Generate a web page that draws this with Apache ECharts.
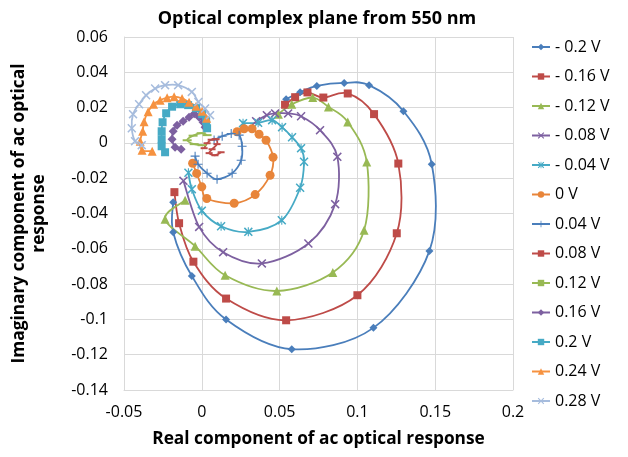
<!DOCTYPE html>
<html>
<head>
<meta charset="utf-8">
<script src="https://cdn.jsdelivr.net/npm/echarts@6/dist/echarts.min.js"></script>
<style>
  html, body { margin: 0; padding: 0; background: #fff; }
  #chart { width: 628px; height: 457px; }
</style>
</head>
<body>
<div id="chart"></div>
<script>
// Real / imaginary parts of the ac optical response at 550 nm, one loop per bias voltage.
const seriesNames = ['- 0.2 V', '- 0.16 V', '- 0.12 V', '- 0.08 V', '- 0.04 V', '0 V',
  '0.04 V', '0.08 V', '0.12 V', '0.16 V', '0.2 V', '0.24 V', '0.28 V'];

const xRange = { min: -0.05, max: 0.2, step: 0.05 };
const yRange = { min: -0.14, max: 0.06, step: 0.02 };

const vNeg020 = [[-0.0184, -0.0336], [-0.0184, -0.0506], [-0.0064, -0.0754], [0.0156, -0.1001],
  [0.0578, -0.1169], [0.1103, -0.1048], [0.1463, -0.0612], [0.1478, -0.0121], [0.1296, 0.0180],
  [0.1075, 0.0327], [0.0915, 0.0340], [0.0739, 0.0323], [0.0632, 0.0287], [0.0542, 0.0248]];

const vNeg016 = [[-0.0176, -0.0279], [-0.0146, -0.0455], [-0.0054, -0.0673], [0.0156, -0.0882],
  [0.0542, -0.1005], [0.1000, -0.0863], [0.1253, -0.0512], [0.1263, -0.0117], [0.1107, 0.0163],
  [0.0938, 0.0280], [0.0781, 0.0257], [0.0679, 0.0286], [0.0600, 0.0259], [0.0535, 0.0216]];

const vNeg012 = [[-0.0107, -0.0325], [-0.0236, -0.0432], [-0.0043, -0.0585], [0.0150, -0.0750],
  [0.0482, -0.0839], [0.0842, -0.0734], [0.1043, -0.0495], [0.1060, -0.0108], [0.0938, 0.0119],
  [0.0814, 0.0204], [0.0713, 0.0257], [0.0578, 0.0219], [0.0492, 0.0163]];

const vNeg008 = [[-0.0118, -0.0215], [-0.0017, -0.0476], [0.0137, -0.0619], [0.0386, -0.0683],
  [0.0685, -0.0570], [0.0857, -0.0347], [0.0871, -0.0079], [0.0760, 0.0072], [0.0638, 0.0151],
  [0.0555, 0.0167], [0.0471, 0.0167], [0.0418, 0.0157], [0.0349, 0.0123]];

const vNeg004 = [[-0.0086, -0.0169], [-0.0064, -0.0262], [0.0000, -0.0384], [0.0124, -0.0472],
  [0.0299, -0.0504], [0.0514, -0.0438], [0.0632, -0.0254], [0.0657, -0.0107], [0.0638, -0.0030],
  [0.0580, 0.0032], [0.0516, 0.0089], [0.0452, 0.0129], [0.0362, 0.0114], [0.0265, 0.0112]];

const vZero = [[-0.0059, -0.0115], [-0.0033, -0.0173], [0.0000, -0.0249], [0.0032, -0.0315],
  [0.0208, -0.0342], [0.0343, -0.0293], [0.0439, -0.0183], [0.0458, -0.0081], [0.0413, 0.0015],
  [0.0368, 0.0049], [0.0323, 0.0080], [0.0272, 0.0080], [0.0227, 0.0063]];

const vPos004 = [[0.0079, 0.0016], [0.0131, 0.0038], [0.0189, 0.0053], [0.0240, 0.0044],
  [0.0259, -0.0019], [0.0253, -0.0098], [0.0195, -0.0172], [0.0098, -0.0206], [0.0034, -0.0172],
  [-0.0024, -0.0121], [-0.0043, -0.0075]];

const vPos008 = [[0.0015, -0.0030], [0.0034, -0.0002], [0.0060, 0.0018], [0.0092, 0.0021],
  [0.0098, -0.0007], [0.0066, -0.0036], [0.0047, -0.0058], [0.0085, -0.0070], [0.0124, -0.0053]];

const vPos012 = [[0.0002, -0.0013], [-0.0049, -0.0007], [-0.0094, 0.0015], [-0.0056, 0.0041],
  [-0.0004, 0.0055], [0.0034, 0.0044]];

const vPos016 = [[-0.0133, -0.0036], [-0.0172, -0.0024], [-0.0191, 0.0021], [-0.0184, 0.0066],
  [-0.0159, 0.0100], [-0.0120, 0.0123], [-0.0082, 0.0146], [-0.0049, 0.0165], [-0.0017, 0.0146],
  [0.0008, 0.0117], [0.0021, 0.0089]];

const vPos020 = [[-0.0236, -0.0053], [-0.0258, -0.0019], [-0.0258, 0.0021], [-0.0258, 0.0066],
  [-0.0252, 0.0117], [-0.0229, 0.0168], [-0.0191, 0.0205], [-0.0139, 0.0219], [-0.0088, 0.0214],
  [-0.0037, 0.0197], [0.0002, 0.0163], [0.0028, 0.0123], [0.0034, 0.0083]];

const vPos024 = [[-0.0319, -0.0047], [-0.0384, -0.0041], [-0.0396, 0.0010], [-0.0380, 0.0066],
  [-0.0371, 0.0120], [-0.0345, 0.0177], [-0.0310, 0.0219], [-0.0268, 0.0242], [-0.0223, 0.0256],
  [-0.0178, 0.0262], [-0.0127, 0.0252], [-0.0082, 0.0231], [-0.0037, 0.0208], [0.0002, 0.0180],
  [0.0031, 0.0140]];

const vPos028 = [[-0.0386, -0.0013], [-0.0429, 0.0010], [-0.0450, 0.0083], [-0.0442, 0.0163],
  [-0.0403, 0.0219], [-0.0358, 0.0270], [-0.0300, 0.0308], [-0.0236, 0.0327], [-0.0152, 0.0327],
  [-0.0064, 0.0289], [-0.0022, 0.0232], [0.0021, 0.0195], [0.0053, 0.0157]];

const seriesData = [vNeg020, vNeg016, vNeg012, vNeg008, vNeg004, vZero,
  vPos004, vPos008, vPos012, vPos016, vPos020, vPos024, vPos028];

// Marker shapes
const SYM_X = 'path://M0,1.2L1.2,0L5,3.8L8.8,0L10,1.2L6.2,5L10,8.8L8.8,10L5,6.2L1.2,10L0,8.8L3.8,5Z';
const SYM_STAR = SYM_X + 'M4.4,0L5.6,0L5.6,10L4.4,10Z';
const SYM_PLUS = 'path://M4.4,0L5.6,0L5.6,4.4L10,4.4L10,5.6L5.6,5.6L5.6,10L4.4,10L4.4,5.6L0,5.6L0,4.4L4.4,4.4Z';
const SYM_DASH = 'path://M0,0L10,0L10,10L0,10Z';

const styles = [
  { color: '#4A7EBB', symbol: 'diamond', size: 8 },
  { color: '#BE4B48', symbol: 'rect', size: 8 },
  { color: '#98B954', symbol: 'triangle', size: 9 },
  { color: '#7D60A0', symbol: SYM_X, size: 9 },
  { color: '#46AAC5', symbol: SYM_STAR, size: 9 },
  { color: '#E8853A', symbol: 'circle', size: 9 },
  { color: '#4A7EBB', symbol: SYM_PLUS, size: 9 },
  { color: '#BE4B48', symbol: SYM_DASH, size: [7, 2] },
  { color: '#98B954', symbol: SYM_DASH, size: [9, 2] },
  { color: '#7D60A0', symbol: 'diamond', size: 9 },
  { color: '#46AAC5', symbol: 'rect', size: 8 },
  { color: '#F69240', symbol: 'triangle', size: 9 },
  { color: '#A6BCDD', symbol: SYM_X, size: 9 }
];

const LINE_W = 1.8;
const FONT = '"Open Sans", "Liberation Sans", sans-serif';
const fmt = v => String(+v.toFixed(3));

// Smooth curve through the points of one series (Catmull-Rom as cubic Bezier),
// positioned with the grid's own coordinate conversion.
function curveSeries(i) {
  return {
    type: 'custom',
    name: 'curve ' + i,
    coordinateSystem: 'cartesian2d',
    data: [seriesData[i][0]],
    silent: true,
    renderItem: (params, api) => {
      const pts = seriesData[i].map(p => api.coord(p));
      let d = 'M' + pts[0][0] + ',' + pts[0][1];
      for (let k = 0; k < pts.length - 1; k++) {
        const p0 = pts[k - 1] || pts[k];
        const p1 = pts[k];
        const p2 = pts[k + 1];
        const p3 = pts[k + 2] || p2;
        const c1x = p1[0] + (p2[0] - p0[0]) / 6, c1y = p1[1] + (p2[1] - p0[1]) / 6;
        const c2x = p2[0] - (p3[0] - p1[0]) / 6, c2y = p2[1] - (p3[1] - p1[1]) / 6;
        d += 'C' + c1x + ',' + c1y + ',' + c2x + ',' + c2y + ',' + p2[0] + ',' + p2[1];
      }
      return {
        type: 'path',
        shape: { pathData: d },
        style: { stroke: styles[i].color, fill: null, lineWidth: LINE_W }
      };
    }
  };
}

function markerSeries(i) {
  return {
    name: seriesNames[i],
    type: 'line',
    data: seriesData[i],
    smooth: false,
    symbol: styles[i].symbol,
    symbolSize: styles[i].size,
    showAllSymbol: true,
    lineStyle: { color: styles[i].color, width: LINE_W, opacity: 0 },
    itemStyle: { color: styles[i].color, borderWidth: 0 },
    emphasis: { disabled: true }
  };
}

const series = [];
seriesNames.forEach((n, i) => { series.push(curveSeries(i), markerSeries(i)); });

const chart = echarts.init(document.getElementById('chart'), null, { renderer: 'canvas' });

chart.setOption({
  animation: false,
  backgroundColor: '#fff',
  textStyle: { fontFamily: FONT, color: '#000' },
  title: {
    text: 'Optical complex plane from 550 nm',
    left: 312, top: 5, textAlign: 'center',
    textStyle: { fontFamily: FONT, fontSize: 18, fontWeight: 'bold', color: '#000' }
  },
  grid: { left: 124, right: 115, top: 37, bottom: 67 },
  legend: {
    orient: 'vertical', left: 526, top: 34,
    itemWidth: 18, itemHeight: 8, itemGap: 13.5,
    data: seriesNames,
    lineStyle: { opacity: 1, width: 2 },
    textStyle: { fontFamily: FONT, fontSize: 16, color: '#000', lineHeight: 16 }
  },
  xAxis: {
    type: 'value', min: xRange.min, max: xRange.max, interval: xRange.step,
    name: 'Real component of ac optical response',
    nameLocation: 'middle', nameGap: 41,
    nameTextStyle: { fontFamily: FONT, fontSize: 17.3, fontWeight: 'bold', color: '#000' },
    axisLine: { show: true, onZero: false, lineStyle: { color: '#D9D9D9' } },
    axisTick: { show: false },
    axisLabel: { formatter: fmt, fontFamily: FONT, fontSize: 16, color: '#000', margin: 14 },
    splitLine: { show: true, lineStyle: { color: '#D9D9D9', width: 1 } }
  },
  yAxis: {
    type: 'value', min: yRange.min, max: yRange.max, interval: yRange.step,
    name: 'Imaginary component of ac optical\nresponse',
    nameLocation: 'middle', nameGap: 75, nameRotate: 90,
    nameTextStyle: { fontFamily: FONT, fontSize: 17.3, fontWeight: 'bold', color: '#000', lineHeight: 20 },
    axisLine: { show: true, onZero: false, lineStyle: { color: '#D9D9D9' } },
    axisTick: { show: false },
    axisLabel: { formatter: fmt, fontFamily: FONT, fontSize: 16, color: '#000', margin: 16 },
    splitLine: { show: true, lineStyle: { color: '#D9D9D9', width: 1 } }
  },
  series
});
</script>
</body>
</html>
